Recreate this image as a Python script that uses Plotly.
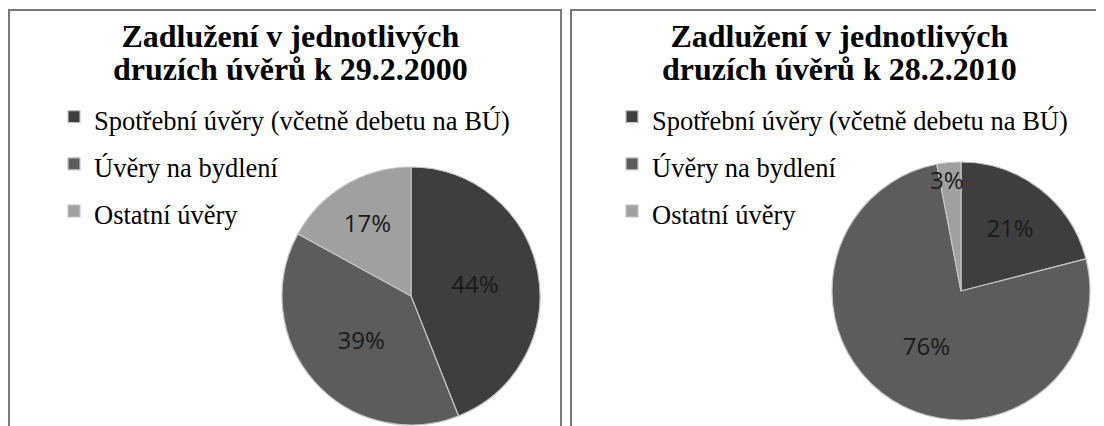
import math
import plotly.graph_objects as go

# page size and the browser's default 8px body margin
PAGE_W, PAGE_H = 1104, 426
OFF = 8
W, H = PAGE_W - OFF, PAGE_H - OFF

categories = ["Spotřební úvěry (včetně debetu na BÚ)", "Úvěry na bydlení", "Ostatní úvěry"]
values_2000 = [44, 39, 17]
values_2010 = [21, 76, 3]
title_lines_2000 = ["Zadlužení v jednotlivých", "druzích úvěrů k 29.2.2000"]
title_lines_2010 = ["Zadlužení v jednotlivých", "druzích úvěrů k 28.2.2010"]
colors = ["#3e3e3e", "#5c5c5c", "#a0a0a0"]


def px_x(v):
    return (v - OFF) / W


def px_y(v):
    return 1 - (v - OFF) / H


LABEL_FONT = dict(family="Open Sans", size=24, color="#1a1a1a")

fig = go.Figure()
annotations = []


def add_pie(vals, cx, cy, r, legend, group, style):
    labels = ['<span style="%s">%s</span>' % (style, c) for c in categories]
    total = float(sum(vals))
    # small slices keep their label at full size, drawn just over the slice
    positions = []
    cum = 0.0
    for v in vals:
        frac = v / total
        if frac < 0.05:
            positions.append("none")
            mid = (cum + frac / 2) * 2 * math.pi
            rr = 0.87 * r
            annotations.append(dict(
                text="%d%%" % round(frac * 100),
                x=px_x(cx + rr * math.sin(mid) - 3), y=px_y(cy - rr * math.cos(mid)),
                xref="paper", yref="paper", showarrow=False,
                xanchor="center", yanchor="middle", font=LABEL_FONT))
        else:
            positions.append("inside")
        cum += frac
    fig.add_trace(go.Pie(
        labels=labels,
        values=vals,
        sort=False,
        direction="clockwise",
        rotation=0,
        texttemplate="%{percent:.0%}",
        textposition=positions,
        insidetextorientation="horizontal",
        insidetextfont=LABEL_FONT,
        marker=dict(colors=colors, line=dict(color="#c4c4c4", width=1.2)),
        domain=dict(x=[px_x(cx - r), px_x(cx + r)], y=[px_y(cy + r), px_y(cy - r)]),
        hoverinfo="label+percent",
        legend=legend,
        legendgroup=group,
    ))


add_pie(values_2000, 411, 296, 129, "legend", "a", "font-size:26.5px")
add_pie(values_2010, 961, 291, 129, "legend2", "b", "font-size:26.5px;")

legend_common = dict(
    font=dict(family="Liberation Serif", size=34, color="#000000"),
    bgcolor="rgba(0,0,0,0)", borderwidth=0,
    xanchor="left", yanchor="top", traceorder="normal",
)

# base font sets the (tight) line spacing, inner span sets the glyph size
title_font = dict(family="Liberation Serif", size=25.5, color="#000000")
for cx, lines in ((290, title_lines_2000), (839, title_lines_2010)):
    text = "<br>".join('<span style="font-size:32px"><b>%s</b></span>' % l for l in lines)
    annotations.append(dict(
        text=text, x=px_x(cx), y=px_y(53),
        xref="paper", yref="paper", showarrow=False,
        xanchor="center", yanchor="middle", font=title_font))

fig.update_layout(
    width=W, height=H,
    margin=dict(l=0, r=0, t=0, b=0),
    paper_bgcolor="white", plot_bgcolor="white",
    legend=dict(x=px_x(54), y=px_y(88), **legend_common),
    legend2=dict(x=px_x(612), y=px_y(88), **legend_common),
    shapes=[
        dict(type="rect", xref="paper", yref="paper",
             x0=px_x(9), x1=px_x(561), y0=px_y(450), y1=px_y(10),
             line=dict(color="#7a7a7a", width=2)),
        dict(type="rect", xref="paper", yref="paper",
             x0=px_x(571), x1=px_x(1120), y0=px_y(450), y1=px_y(10),
             line=dict(color="#7a7a7a", width=2)),
    ],
    annotations=annotations,
)

fig.write_html("out.html")
